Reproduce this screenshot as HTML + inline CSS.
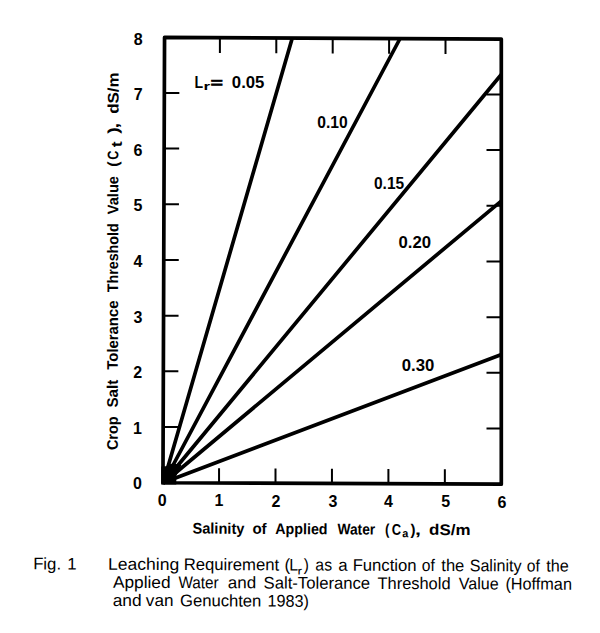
<!DOCTYPE html>
<html><head><meta charset="utf-8"><title>Leaching Requirement Chart</title>
<style>html,body{margin:0;padding:0;background:#fff;width:600px;height:633px;overflow:hidden}svg{display:block}</style>
</head><body>
<svg width="600" height="633" viewBox="0 0 600 633">
<rect width="600" height="633" fill="#fff"/>
<polygon points="164.55,37.4 501.3,39.1 501.3,484.2 162.95,482.75" fill="none" stroke="#000" stroke-width="3.7" stroke-linejoin="round"/>
<path d="M163.15 427.02H178.15 M501.3 428.52H486.5 M163.35 371.34H178.35 M501.3 372.84H486.5 M163.55 315.66H178.55 M501.3 317.16H486.5 M163.75 259.98H178.75 M501.3 261.48H486.5 M163.95 204.30H178.95 M501.3 205.80H486.5 M164.15 148.62H179.15 M501.3 150.12H486.5 M164.35 92.94H179.35 M501.3 94.44H486.5 M219.05 482.99V468.29 M219.90 37.68V52.88 M275.50 483.23V468.53 M276.30 37.96V53.16 M331.95 483.47V468.77 M332.70 38.25V53.45 M388.40 483.72V469.02 M389.10 38.53V53.73 M444.85 483.96V469.26 M445.50 38.82V54.02" stroke="#000" stroke-width="2" fill="none"/>
<path d="M292.0 39.0L163.1 483.5 M399.8 39.0L163.3 483.5 M501.5 74.3L162.9 483.5 M501.5 200.8L162.9 483.5 M501.5 354.4L163.0 482.8" stroke="#000" stroke-width="3.7" fill="none"/>
<polygon points="161.2,466.5 165.7,466.3 171,463.8 176.3,464 181.4,465 176.3,475.9 176.3,480.2 176.3,484.6 161.2,484.6" fill="#000"/>
<text x="133.02" y="489.20" textLength="8.90" lengthAdjust="spacingAndGlyphs" font-family="'Liberation Sans',Arial,sans-serif" font-weight="bold" font-size="16">0</text>
<text x="132.88" y="433.64" textLength="8.90" lengthAdjust="spacingAndGlyphs" font-family="'Liberation Sans',Arial,sans-serif" font-weight="bold" font-size="16">1</text>
<text x="133.30" y="378.08" textLength="8.90" lengthAdjust="spacingAndGlyphs" font-family="'Liberation Sans',Arial,sans-serif" font-weight="bold" font-size="16">2</text>
<text x="133.48" y="322.52" textLength="8.90" lengthAdjust="spacingAndGlyphs" font-family="'Liberation Sans',Arial,sans-serif" font-weight="bold" font-size="16">3</text>
<text x="133.42" y="266.96" textLength="8.90" lengthAdjust="spacingAndGlyphs" font-family="'Liberation Sans',Arial,sans-serif" font-weight="bold" font-size="16">4</text>
<text x="133.52" y="211.40" textLength="8.90" lengthAdjust="spacingAndGlyphs" font-family="'Liberation Sans',Arial,sans-serif" font-weight="bold" font-size="16">5</text>
<text x="133.62" y="155.84" textLength="8.90" lengthAdjust="spacingAndGlyphs" font-family="'Liberation Sans',Arial,sans-serif" font-weight="bold" font-size="16">6</text>
<text x="133.80" y="100.28" textLength="8.90" lengthAdjust="spacingAndGlyphs" font-family="'Liberation Sans',Arial,sans-serif" font-weight="bold" font-size="16">7</text>
<text x="133.82" y="44.72" textLength="8.90" lengthAdjust="spacingAndGlyphs" font-family="'Liberation Sans',Arial,sans-serif" font-weight="bold" font-size="16">8</text>
<text x="157.82" y="506.00" textLength="8.90" lengthAdjust="spacingAndGlyphs" font-family="'Liberation Sans',Arial,sans-serif" font-weight="bold" font-size="16">0</text>
<text x="214.48" y="506.27" textLength="8.90" lengthAdjust="spacingAndGlyphs" font-family="'Liberation Sans',Arial,sans-serif" font-weight="bold" font-size="16">1</text>
<text x="271.40" y="506.54" textLength="8.90" lengthAdjust="spacingAndGlyphs" font-family="'Liberation Sans',Arial,sans-serif" font-weight="bold" font-size="16">2</text>
<text x="328.58" y="506.80" textLength="8.90" lengthAdjust="spacingAndGlyphs" font-family="'Liberation Sans',Arial,sans-serif" font-weight="bold" font-size="16">3</text>
<text x="383.92" y="507.07" textLength="8.90" lengthAdjust="spacingAndGlyphs" font-family="'Liberation Sans',Arial,sans-serif" font-weight="bold" font-size="16">4</text>
<text x="441.22" y="507.34" textLength="8.90" lengthAdjust="spacingAndGlyphs" font-family="'Liberation Sans',Arial,sans-serif" font-weight="bold" font-size="16">5</text>
<text x="497.52" y="507.60" textLength="8.90" lengthAdjust="spacingAndGlyphs" font-family="'Liberation Sans',Arial,sans-serif" font-weight="bold" font-size="16">6</text>
<g transform="rotate(0.33 193 533.5)">
<text x="192.46" y="533.50" textLength="51.93" lengthAdjust="spacingAndGlyphs" font-family="'Liberation Sans',Arial,sans-serif" font-weight="bold" font-size="15.3">Salinity</text>
<text x="252.40" y="533.50" textLength="14.21" lengthAdjust="spacingAndGlyphs" font-family="'Liberation Sans',Arial,sans-serif" font-weight="bold" font-size="15.3">of</text>
<text x="275.37" y="533.50" textLength="52.13" lengthAdjust="spacingAndGlyphs" font-family="'Liberation Sans',Arial,sans-serif" font-weight="bold" font-size="15.3">Applied</text>
<text x="337.50" y="533.50" textLength="37.65" lengthAdjust="spacingAndGlyphs" font-family="'Liberation Sans',Arial,sans-serif" font-weight="bold" font-size="15.3">Water</text>
<text x="429.12" y="533.50" textLength="41.30" lengthAdjust="spacingAndGlyphs" font-family="'Liberation Sans',Arial,sans-serif" font-weight="bold" font-size="15.3">dS/m</text>
<text x="385.14" y="533.50" textLength="4.40" lengthAdjust="spacingAndGlyphs" font-family="'Liberation Sans',Arial,sans-serif" font-weight="bold" font-size="15.3">(</text>
<text x="391.68" y="533.50" textLength="9.33" lengthAdjust="spacingAndGlyphs" font-family="'Liberation Sans',Arial,sans-serif" font-weight="bold" font-size="15.3">C</text>
<text x="402.27" y="536.10" textLength="6.09" lengthAdjust="spacingAndGlyphs" font-family="'Liberation Sans',Arial,sans-serif" font-weight="bold" font-size="11.5">a</text>
<text x="410.40" y="533.50" textLength="4.99" lengthAdjust="spacingAndGlyphs" font-family="'Liberation Sans',Arial,sans-serif" font-weight="bold" font-size="15.3">)</text>
<text x="414.90" y="533.50" textLength="5.95" lengthAdjust="spacingAndGlyphs" font-family="'Liberation Sans',Arial,sans-serif" font-weight="bold" font-size="15.3">,</text>
</g>
<g transform="rotate(0.13 118 300)">
<text transform="rotate(-90)" x="-450.08" y="118.00" textLength="33.70" lengthAdjust="spacingAndGlyphs" font-family="'Liberation Sans',Arial,sans-serif" font-weight="bold" font-size="15.3">Crop</text>
<text transform="rotate(-90)" x="-407.56" y="118.00" textLength="27.87" lengthAdjust="spacingAndGlyphs" font-family="'Liberation Sans',Arial,sans-serif" font-weight="bold" font-size="15.3">Salt</text>
<text transform="rotate(-90)" x="-369.65" y="118.00" textLength="69.04" lengthAdjust="spacingAndGlyphs" font-family="'Liberation Sans',Arial,sans-serif" font-weight="bold" font-size="15.3">Tolerance</text>
<text transform="rotate(-90)" x="-292.24" y="118.00" textLength="68.94" lengthAdjust="spacingAndGlyphs" font-family="'Liberation Sans',Arial,sans-serif" font-weight="bold" font-size="15.3">Threshold</text>
<text transform="rotate(-90)" x="-214.15" y="118.00" textLength="38.02" lengthAdjust="spacingAndGlyphs" font-family="'Liberation Sans',Arial,sans-serif" font-weight="bold" font-size="15.3">Value</text>
<text transform="rotate(-90)" x="-113.88" y="118.00" textLength="41.51" lengthAdjust="spacingAndGlyphs" font-family="'Liberation Sans',Arial,sans-serif" font-weight="bold" font-size="15.3">dS/m</text>
<text transform="rotate(-90)" x="-166.80" y="118.00" textLength="5.35" lengthAdjust="spacingAndGlyphs" font-family="'Liberation Sans',Arial,sans-serif" font-weight="bold" font-size="15.3">(</text>
<text transform="rotate(-90)" x="-159.81" y="118.00" textLength="9.22" lengthAdjust="spacingAndGlyphs" font-family="'Liberation Sans',Arial,sans-serif" font-weight="bold" font-size="15.3">C</text>
<text transform="rotate(-90)" x="-147.28" y="121.30" textLength="5.91" lengthAdjust="spacingAndGlyphs" font-family="'Liberation Sans',Arial,sans-serif" font-weight="bold" font-size="15">t</text>
<text transform="rotate(-90)" x="-133.70" y="118.00" textLength="6.54" lengthAdjust="spacingAndGlyphs" font-family="'Liberation Sans',Arial,sans-serif" font-weight="bold" font-size="15.3">)</text>
<text transform="rotate(-90)" x="-128.40" y="118.00" textLength="5.56" lengthAdjust="spacingAndGlyphs" font-family="'Liberation Sans',Arial,sans-serif" font-weight="bold" font-size="15.3">,</text>
</g>
<text x="194.51" y="88.30" textLength="8.62" lengthAdjust="spacingAndGlyphs" font-family="'Liberation Sans',Arial,sans-serif" font-weight="bold" font-size="16">L</text>
<text x="203.50" y="90.30" textLength="6.65" lengthAdjust="spacingAndGlyphs" font-family="'Liberation Sans',Arial,sans-serif" font-weight="bold" font-size="11.5">r</text>
<text x="210.68" y="87.40" textLength="12.03" lengthAdjust="spacingAndGlyphs" font-family="'Liberation Sans',Arial,sans-serif" font-weight="bold" font-size="12.5" stroke="#000" stroke-width="0.7">=</text>
<text x="231.83" y="88.40" textLength="32.61" lengthAdjust="spacingAndGlyphs" font-family="'Liberation Sans',Arial,sans-serif" font-weight="bold" font-size="16">0.05</text>
<text x="317.28" y="127.50" textLength="30.39" lengthAdjust="spacingAndGlyphs" font-family="'Liberation Sans',Arial,sans-serif" font-weight="bold" font-size="16">0.10</text>
<text x="373.98" y="188.75" textLength="30.17" lengthAdjust="spacingAndGlyphs" font-family="'Liberation Sans',Arial,sans-serif" font-weight="bold" font-size="16">0.15</text>
<text x="398.53" y="247.90" textLength="32.47" lengthAdjust="spacingAndGlyphs" font-family="'Liberation Sans',Arial,sans-serif" font-weight="bold" font-size="16">0.20</text>
<text x="401.83" y="370.80" textLength="32.52" lengthAdjust="spacingAndGlyphs" font-family="'Liberation Sans',Arial,sans-serif" font-weight="bold" font-size="16">0.30</text>
<g transform="rotate(0.24 110 569.7)">
<text x="108.10" y="569.70" textLength="71.11" lengthAdjust="spacingAndGlyphs" font-family="'Liberation Sans',Arial,sans-serif" font-weight="normal" font-size="16.8">Leaching</text>
<text x="183.67" y="569.70" textLength="95.41" lengthAdjust="spacingAndGlyphs" font-family="'Liberation Sans',Arial,sans-serif" font-weight="normal" font-size="16.8">Requirement</text>
<text x="303.85" y="569.70" textLength="5.12" lengthAdjust="spacingAndGlyphs" font-family="'Liberation Sans',Arial,sans-serif" font-weight="normal" font-size="16.8">)</text>
<text x="315.37" y="569.70" textLength="16.70" lengthAdjust="spacingAndGlyphs" font-family="'Liberation Sans',Arial,sans-serif" font-weight="normal" font-size="16.8">as</text>
<text x="352.67" y="569.70" textLength="63.92" lengthAdjust="spacingAndGlyphs" font-family="'Liberation Sans',Arial,sans-serif" font-weight="normal" font-size="16.8">Function</text>
<text x="421.88" y="569.70" textLength="13.03" lengthAdjust="spacingAndGlyphs" font-family="'Liberation Sans',Arial,sans-serif" font-weight="normal" font-size="16.8">of</text>
<text x="441.33" y="569.70" textLength="22.99" lengthAdjust="spacingAndGlyphs" font-family="'Liberation Sans',Arial,sans-serif" font-weight="normal" font-size="16.8">the</text>
<text x="469.70" y="569.70" textLength="51.86" lengthAdjust="spacingAndGlyphs" font-family="'Liberation Sans',Arial,sans-serif" font-weight="normal" font-size="16.8">Salinity</text>
<text x="526.88" y="569.70" textLength="13.03" lengthAdjust="spacingAndGlyphs" font-family="'Liberation Sans',Arial,sans-serif" font-weight="normal" font-size="16.8">of</text>
<text x="546.34" y="569.70" textLength="22.47" lengthAdjust="spacingAndGlyphs" font-family="'Liberation Sans',Arial,sans-serif" font-weight="normal" font-size="16.8">the</text>
<text x="113.00" y="587.80" textLength="57.64" lengthAdjust="spacingAndGlyphs" font-family="'Liberation Sans',Arial,sans-serif" font-weight="normal" font-size="16.8">Applied</text>
<text x="178.50" y="587.80" textLength="40.15" lengthAdjust="spacingAndGlyphs" font-family="'Liberation Sans',Arial,sans-serif" font-weight="normal" font-size="16.8">Water</text>
<text x="227.82" y="587.80" textLength="28.34" lengthAdjust="spacingAndGlyphs" font-family="'Liberation Sans',Arial,sans-serif" font-weight="normal" font-size="16.8">and</text>
<text x="263.67" y="587.80" textLength="106.53" lengthAdjust="spacingAndGlyphs" font-family="'Liberation Sans',Arial,sans-serif" font-weight="normal" font-size="16.8">Salt-Tolerance</text>
<text x="377.67" y="587.80" textLength="72.92" lengthAdjust="spacingAndGlyphs" font-family="'Liberation Sans',Arial,sans-serif" font-weight="normal" font-size="16.8">Threshold</text>
<text x="458.84" y="587.80" textLength="39.86" lengthAdjust="spacingAndGlyphs" font-family="'Liberation Sans',Arial,sans-serif" font-weight="normal" font-size="16.8">Value</text>
<text x="505.53" y="587.80" textLength="66.51" lengthAdjust="spacingAndGlyphs" font-family="'Liberation Sans',Arial,sans-serif" font-weight="normal" font-size="16.8">(Hoffman</text>
<text x="112.81" y="605.90" textLength="28.87" lengthAdjust="spacingAndGlyphs" font-family="'Liberation Sans',Arial,sans-serif" font-weight="normal" font-size="16.8">and</text>
<text x="146.00" y="605.90" textLength="27.56" lengthAdjust="spacingAndGlyphs" font-family="'Liberation Sans',Arial,sans-serif" font-weight="normal" font-size="16.8">van</text>
<text x="180.17" y="605.90" textLength="81.37" lengthAdjust="spacingAndGlyphs" font-family="'Liberation Sans',Arial,sans-serif" font-weight="normal" font-size="16.8">Genuchten</text>
<text x="267.71" y="605.90" textLength="41.38" lengthAdjust="spacingAndGlyphs" font-family="'Liberation Sans',Arial,sans-serif" font-weight="normal" font-size="16.8">1983)</text>
<text x="33.16" y="569.70" textLength="27.89" lengthAdjust="spacingAndGlyphs" font-family="'Liberation Sans',Arial,sans-serif" font-weight="normal" font-size="16.8">Fig.</text>
<text x="67.36" y="569.70" textLength="9.34" lengthAdjust="spacingAndGlyphs" font-family="'Liberation Sans',Arial,sans-serif" font-weight="normal" font-size="16.8">1</text>
<text x="284.49" y="569.70" textLength="5.59" lengthAdjust="spacingAndGlyphs" font-family="'Liberation Sans',Arial,sans-serif" font-weight="normal" font-size="16.8">(</text>
<text x="289.22" y="569.70" textLength="8.88" lengthAdjust="spacingAndGlyphs" font-family="'Liberation Sans',Arial,sans-serif" font-weight="normal" font-size="16.8">L</text>
<text x="338.33" y="569.70" textLength="9.34" lengthAdjust="spacingAndGlyphs" font-family="'Liberation Sans',Arial,sans-serif" font-weight="normal" font-size="16.8">a</text>
<text x="297.65" y="573.60" textLength="4.53" lengthAdjust="spacingAndGlyphs" font-family="'Liberation Sans',Arial,sans-serif" font-weight="normal" font-size="10.5">r</text>
</g>
</svg>
</body></html>
